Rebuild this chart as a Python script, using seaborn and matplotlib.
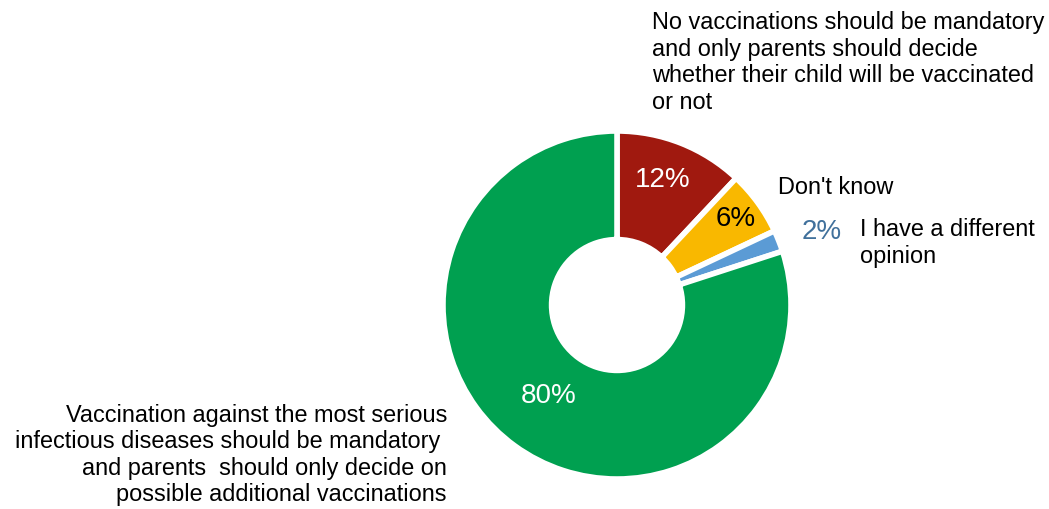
import matplotlib
matplotlib.use("Agg")
import matplotlib.pyplot as plt
import seaborn as sns

# survey answers, clockwise from 12 o'clock
answers = ["No vaccinations should be mandatory\nand only parents should decide\nwhether their child will be vaccinated\nor not",
	"Don't know",
	"I have a different\nopinion",
	"Vaccination against the most serious\ninfectious diseases should be mandatory \nand parents  should only decide on\npossible additional vaccinations"]
shares = [12, 6, 2, 80]
pct_labels = ["12%", "6%", "2%", "80%"]
colors = ["#A0190F", "#F9B800", "#5B9BD5", "#00A050"]
pct_colors = ["white", "black", "#41719C", "white"]

sns.set_theme(style="white")
plt.rcParams['font.family'] = ['Liberation Sans', 'DejaVu Sans']

W, H = 1049, 509
fig = plt.figure(figsize=(W / 100, H / 100), dpi=100)
ax = fig.add_axes([0, 0, 1, 1])

cx, cy, r = 617, H - 305, 174
wedges, _ = ax.pie(shares, colors=colors, startangle=90, counterclock=False,
	center=(cx, cy), radius=r, frame=True,
	wedgeprops=dict(width=r * 0.624, edgecolor="white", linewidth=4))
ax.set_xlim(0, W)
ax.set_ylim(0, H)
ax.set_aspect("equal")
ax.axis("off")

# percentage labels
pct_pos = [(663, 180), (736, 219), (822, 232), (549, 396)]
for txt, col, (x, y) in zip(pct_labels, pct_colors, pct_pos):
	ax.text(x, H - y, txt, color=col, fontsize=20, ha="center", va="center")

# category labels
fs = 16.9
ax.text(652, H - 11, answers[0], fontsize=fs, color="black", ha="left", va="top", linespacing=1.2)
ax.text(778, H - 187, answers[1], fontsize=fs, color="black", ha="left", va="center")
ax.text(860, H - 243, answers[2], fontsize=fs, color="black", ha="left", va="center", linespacing=1.2)
ax.text(447, H - 455, answers[3], fontsize=fs, color="black", ha="right", va="center",
	multialignment="right", linespacing=1.2)

fig.savefig("out.png", dpi=100)
